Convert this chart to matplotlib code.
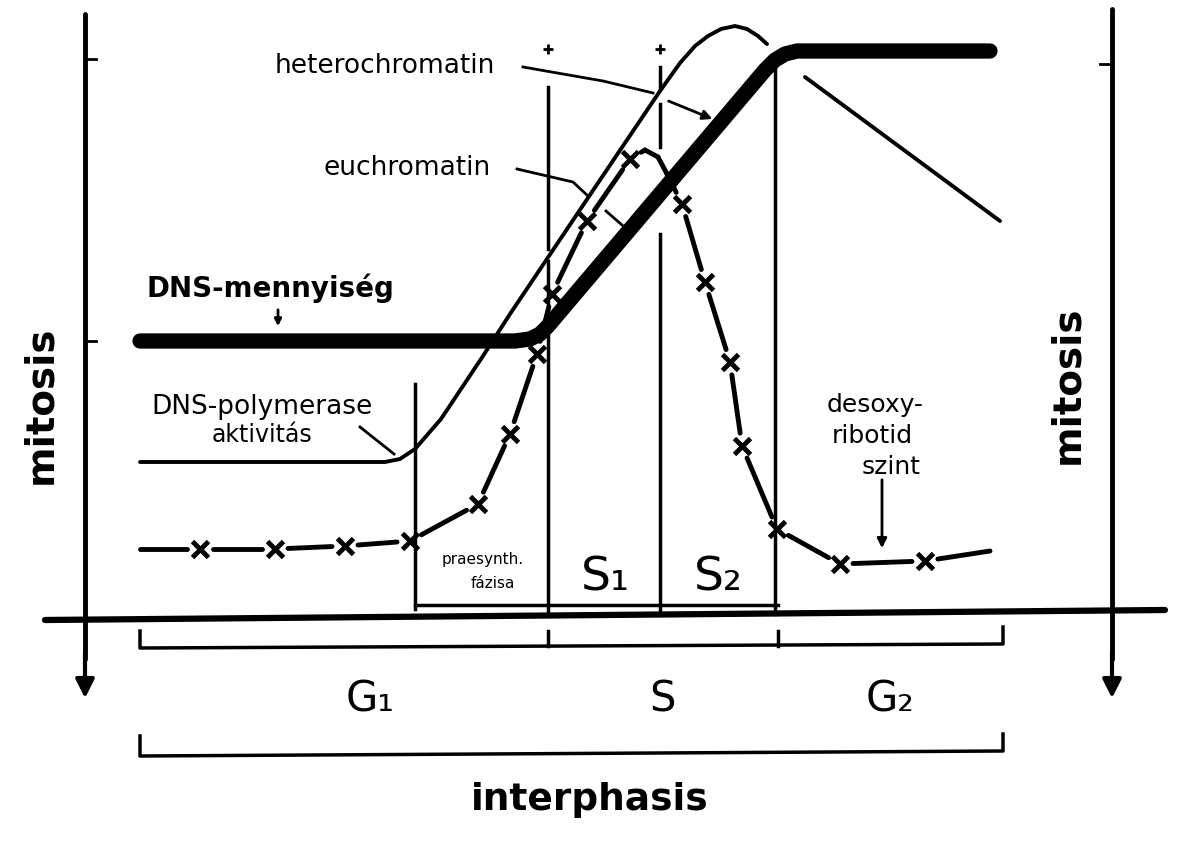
import numpy as np
import matplotlib.pyplot as plt

# coordinates: x = time along the cycle, y = height (downwards, like the picture)

# DNS-mennyiség (thick line)
dna_x = [140, 515, 530, 540, 548, 765, 775, 785, 797, 990]
dna_y = [342, 342, 340, 335, 327, 71, 61, 55, 52, 52]

# DNS-polymerase aktivitás (thin curve)
pol_x = [140, 385, 400, 415, 441, 483, 510, 600, 660, 680, 695, 708, 721, 735, 747, 758, 767]
pol_y = [463, 463, 460, 450, 420, 357, 315, 181, 92, 64, 47, 37, 30, 27, 30, 37, 45]
pol_tail_x = [805, 1000]
pol_tail_y = [78, 222]

# desoxyribotid szint (x-marked curve); mark = 1 where an "x" is drawn
dr_x = [140, 200, 275, 345, 410, 478, 510, 537, 552, 587, 630, 645, 658, 667, 682, 705, 730, 742, 777, 840, 925, 990]
dr_y = [550, 550, 550, 547, 542, 505, 435, 355, 295, 222, 160, 151, 158, 175, 205, 283, 363, 447, 530, 565, 562, 552]
dr_mark = [0, 1, 1, 1, 1, 1, 1, 1, 1, 1, 1, 0, 0, 0, 1, 1, 1, 1, 1, 1, 1, 0]

# phase borders
phase_edges = [140, 548, 778, 1003]
phase_labels = ["G₁", "S", "G₂"]
sub_edges = [415, 548, 662, 778]
sub_labels = ["praesynth.\nfázisa", "S₁", "S₂"]

K = "black"

fig = plt.figure(figsize=(11.81, 8.45), dpi=100)
ax = fig.add_axes([0, 0, 1, 1])
ax.set_xlim(0, 1181)
ax.set_ylim(845, 0)
ax.axis("off")

# baseline and the two mitosis axes
ax.plot([45, 1165], [621, 611], color=K, lw=4.5, solid_capstyle="round")
for xa, top in [(85, 15), (1112, 10)]:
    ax.plot([xa, xa], [top, 660], color=K, lw=3.5, solid_capstyle="round")
    ax.annotate("", xy=(xa, 702), xytext=(xa, 650),
                arrowprops=dict(arrowstyle="-|>", lw=3, color=K, mutation_scale=28))
ax.plot([85, 96], [60, 60], color=K, lw=2)
ax.plot([85, 96], [342, 342], color=K, lw=2)
ax.plot([1100, 1112], [65, 65], color=K, lw=2)

# vertical phase lines
ax.plot([415, 415], [385, 610], color=K, lw=2.5)
ax.plot([548, 548], [88, 250], color=K, lw=2.5)
ax.plot([548, 548], [262, 615], color=K, lw=2.5)
ax.plot([660, 660], [68, 90], color=K, lw=2.5)
ax.plot([660, 660], [105, 148], color=K, lw=2.5)
ax.plot([660, 660], [235, 615], color=K, lw=2.5)
ax.plot([548, 660], [50, 50], ls="none", marker="+", ms=7, mew=2, color=K)
ax.plot([775, 775], [60, 615], color=K, lw=2.5)
ax.plot([sub_edges[0], sub_edges[-1]], [606, 606], color=K, lw=2.5)

# curves
ax.plot(dna_x, dna_y, color=K, lw=11, solid_capstyle="round", solid_joinstyle="round")
ax.plot(pol_x, pol_y, color=K, lw=2.8, solid_capstyle="round", solid_joinstyle="round")
ax.plot(pol_tail_x, pol_tail_y, color=K, lw=2.8, solid_capstyle="round")

# x-curve drawn as dashes between the crosses
px = np.array(dr_x, float)
py = np.array(dr_y, float)
gap = 13
for i in range(len(px) - 1):
    d = np.array([px[i + 1] - px[i], py[i + 1] - py[i]])
    d = d / np.hypot(*d)
    a = np.array([px[i], py[i]]) + d * gap * dr_mark[i]
    b = np.array([px[i + 1], py[i + 1]]) - d * gap * dr_mark[i + 1]
    ax.plot([a[0], b[0]], [a[1], b[1]], color=K, lw=3.5, solid_capstyle="round")
mk = np.array(dr_mark) == 1
ax.plot(px[mk], py[mk], ls="none", marker="x", ms=12, mew=3.5, color=K)

# brackets under the axis
ax.plot([phase_edges[0], phase_edges[0], phase_edges[-1], phase_edges[-1]],
        [632, 649, 645, 628], color=K, lw=2.5)
for xe in phase_edges[1:-1]:
    ax.plot([xe, xe], [632, 647], color=K, lw=2.5)
for i, lab in enumerate(phase_labels):
    xm = (phase_edges[i] + phase_edges[i + 1]) / 2
    if i == 0:
        xm = 370
    ax.text(xm, 700, lab, fontsize=30, ha="center", va="center")
ax.plot([phase_edges[0], phase_edges[0], phase_edges[-1], phase_edges[-1]],
        [737, 757, 752, 735], color=K, lw=2.5)
ax.text(590, 800, "interphasis", fontsize=27, fontweight="bold", ha="center", va="center")

# labels in the small boxes
ax.text(483, 560, "praesynth.", fontsize=11, ha="center", va="center")
ax.text(493, 584, "fázisa", fontsize=11, ha="center", va="center")
ax.text(605, 578, sub_labels[1], fontsize=34, ha="center", va="center")
ax.text(718, 578, sub_labels[2], fontsize=34, ha="center", va="center")

# vertical titles
ax.text(40, 405, "mitosis", fontsize=28, fontweight="bold", rotation=90, ha="center", va="center")
ax.text(1067, 385, "mitosis", fontsize=28, fontweight="bold", rotation=90, ha="center", va="center")

# curve names and leaders
ax.text(385, 66, "heterochromatin", fontsize=19, ha="center", va="center")
ax.plot([523, 603, 653], [68, 82, 94], color=K, lw=2)
ax.annotate("", xy=(715, 121), xytext=(666, 101),
            arrowprops=dict(arrowstyle="-|>", lw=2, color=K, mutation_scale=14))
ax.text(407, 168, "euchromatin", fontsize=19, ha="center", va="center")
ax.plot([517, 573, 588], [170, 183, 197], color=K, lw=2)
ax.plot([606, 622], [212, 226], color=K, lw=2)

ax.text(270, 288, "DNS-mennyiség", fontsize=20, fontweight="bold", ha="center", va="center")
ax.annotate("", xy=(278, 330), xytext=(278, 308),
            arrowprops=dict(arrowstyle="-|>", lw=2, color=K, mutation_scale=10))

ax.text(262, 407, "DNS-polymerase", fontsize=19, ha="center", va="center")
ax.text(262, 435, "aktivitás", fontsize=17, ha="center", va="center")
ax.plot([360, 394], [428, 455], color=K, lw=2)

ax.text(875, 405, "desoxy-", fontsize=18, ha="center", va="center")
ax.text(872, 436, "ribotid", fontsize=18, ha="center", va="center")
ax.text(891, 467, "szint", fontsize=18, ha="center", va="center")
ax.annotate("", xy=(882, 552), xytext=(882, 478),
            arrowprops=dict(arrowstyle="-|>", lw=2, color=K, mutation_scale=14))

fig.savefig("out.png", dpi=100, facecolor="white")
